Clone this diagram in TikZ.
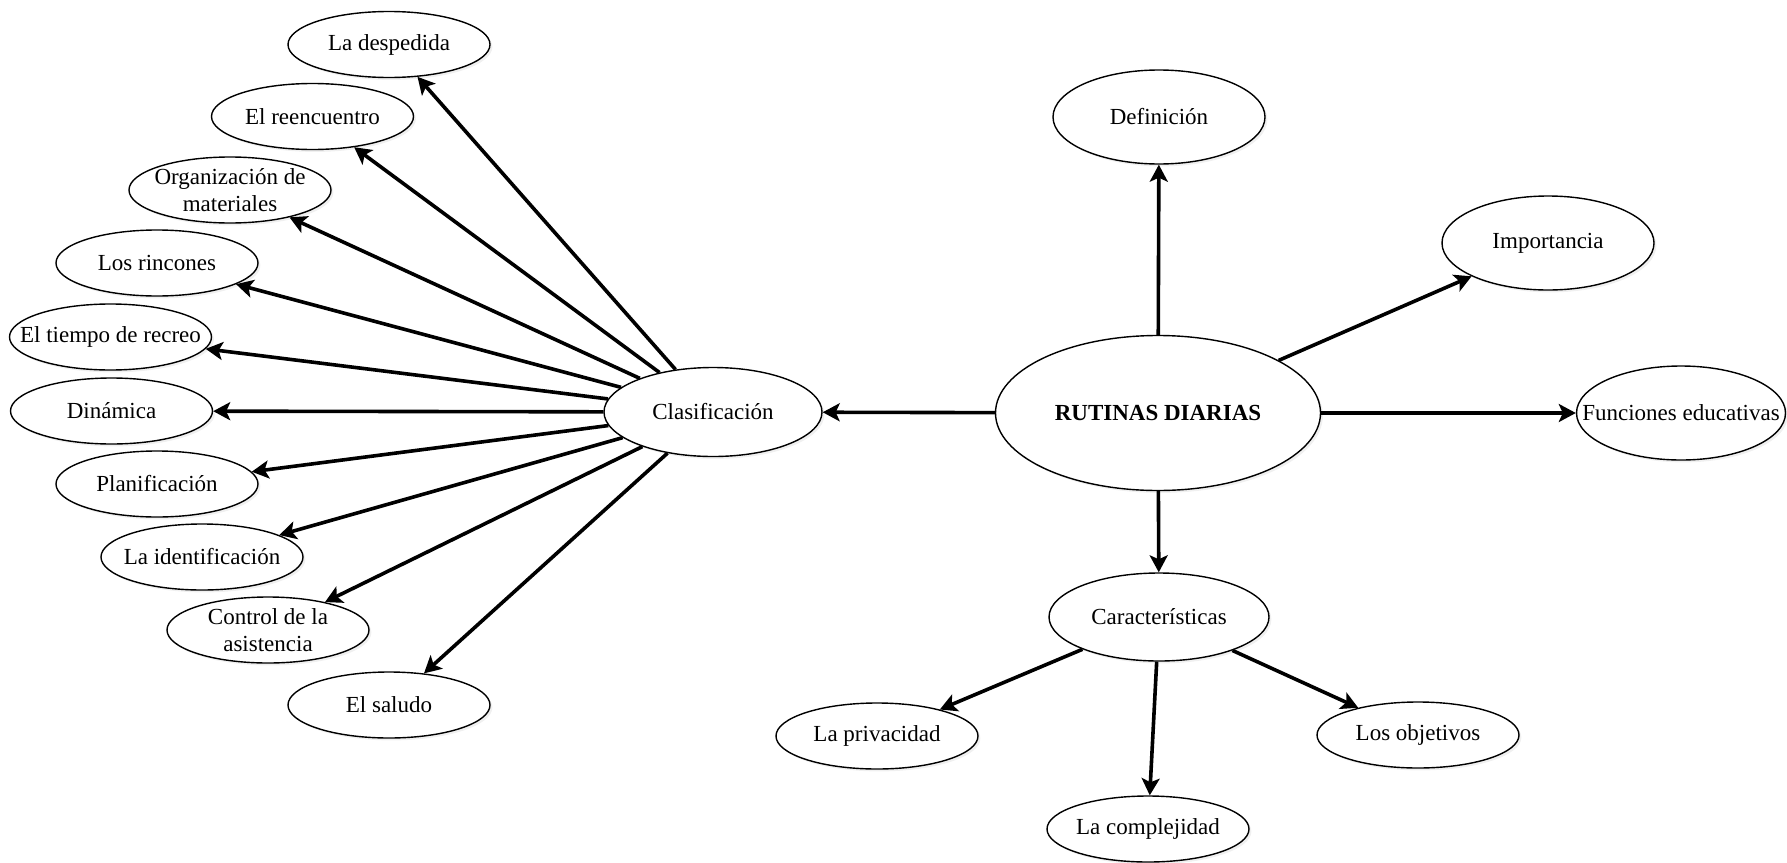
\documentclass[tikz,border=0pt]{standalone}
\usepackage{fontspec}
\setmainfont{Liberation Serif}
\usetikzlibrary{arrows.meta,shapes.geometric,shadows}

\begin{document}
\begin{tikzpicture}[x=0.5pt,y=-0.5pt,-{Stealth[length=8.5pt,width=9pt,inset=2pt]},line width=1.8pt,
    font=\fontsize{11.5}{13.5}\selectfont]
    \tikzstyle{idea}=[ellipse,draw=black,line width=0.7pt,fill=white,align=center,
        inner xsep=-14pt,inner ysep=-2pt,
        drop shadow={opacity=0.12,shadow xshift=1.2pt,shadow yshift=-1.2pt}]
    \tikzstyle{main idea}=[idea,minimum width=162.5pt,minimum height=77.5pt]
    \tikzstyle{branch idea}=[idea,minimum width=109pt,minimum height=44.5pt]
    \tikzstyle{top idea}=[idea,minimum width=106pt,minimum height=47pt]
    \tikzstyle{leaf idea}=[idea,minimum width=101pt,minimum height=33pt]

    \path[use as bounding box,-] (0,0) rectangle (1787,862);

    % Draw the central node
    \node[main idea] (R) at (1158,413) {\textbf{RUTINAS DIARIAS}};

    % Draw the nodes around it
    \node[top idea] (Def) at (1159,117) {Definición};
    \node[top idea] (Imp) at (1548,243) {Importancia};
    \node[top idea,minimum width=104.5pt] (Fun) at (1681,413) {Funciones educativas};
    \node[branch idea] (Cl) at (713,412) {Clasificación};
    \node[branch idea,minimum width=110pt,minimum height=44pt] (Ca) at (1159,617) {Características};

    % Draw the classification nodes
    \node[leaf idea] (C-1) at (389,44.5) {La despedida};
    \node[leaf idea] (C-2) at (312.5,116.5) {El reencuentro};
    \node[leaf idea] (C-3) at (230,190) {Organización de\\materiales};
    \node[leaf idea] (C-4) at (157,263) {Los rincones};
    \node[leaf idea] (C-5) at (110.5,337) {El tiempo de recreo};
    \node[leaf idea] (C-6) at (111.5,411) {Dinámica};
    \node[leaf idea] (C-7) at (157,484) {Planificación};
    \node[leaf idea] (C-8) at (202,557) {La identificación};
    \node[leaf idea] (C-9) at (268,630) {Control de la\\asistencia};
    \node[leaf idea] (C-10) at (389,705) {El saludo};

    % Draw the characteristics nodes
    \node[leaf idea] (K-1) at (877,736) {La privacidad};
    \node[leaf idea] (K-2) at (1148,829) {La complejidad};
    \node[leaf idea] (K-3) at (1418,735) {Los objetivos};

    % Connect the central node with the nodes around it
    \foreach \dest in {Def,Imp,Fun,Cl,Ca}
        \path (R) edge (\dest);

    % Connect the classification with every one of its nodes
    \foreach \dest in {1,...,10}
        \path (Cl) edge (C-\dest);

    % Connect the characteristics with its nodes
    \foreach \dest in {1,...,3}
        \path (Ca) edge (K-\dest);
\end{tikzpicture}
\end{document}
